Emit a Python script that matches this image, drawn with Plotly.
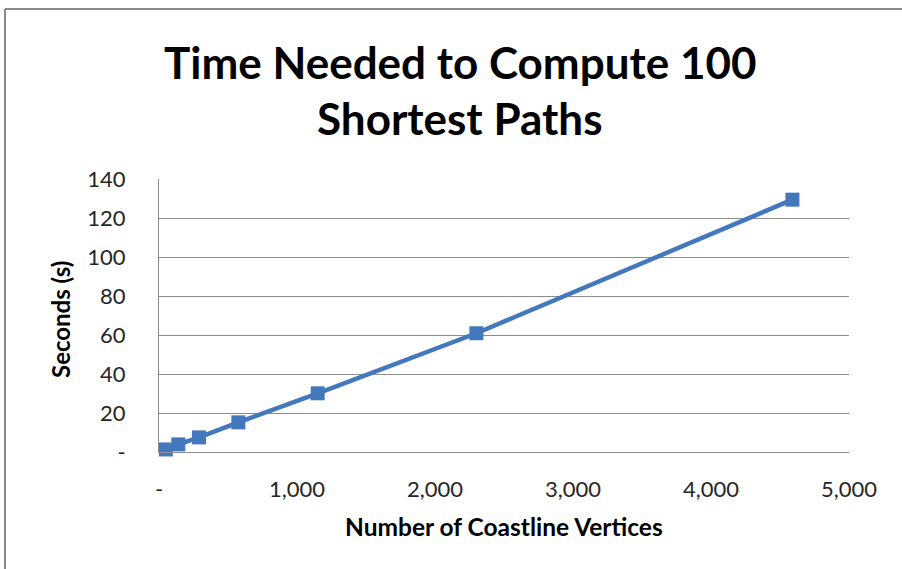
import plotly.graph_objects as go

# Coastline vertex counts and the time to compute 100 shortest paths
vertices = [50, 140, 290, 575, 1150, 2300, 4590]
seconds = [1.3, 3.9, 7.5, 15.2, 30.1, 60.9, 129.4]

x_ticks = [0, 1000, 2000, 3000, 4000, 5000]
x_labels = ["-", "1,000", "2,000", "3,000", "4,000", "5,000"]
y_ticks = [0, 20, 40, 60, 80, 100, 120, 140]
y_labels = ["-", "20", "40", "60", "80", "100", "120", "140"]

blue = "#4478bd"
grid = "#8c8c8c"
font_family = "Lato, 'Open Sans', sans-serif"

fig = go.Figure()
fig.add_trace(go.Scatter(
    x=vertices, y=seconds, mode="lines+markers",
    line=dict(color=blue, width=4.5),
    marker=dict(symbol="square", size=14, color=blue),
    showlegend=False, cliponaxis=False,
))

W, H = 902, 569
L, R, T, B = 159, 53, 179, 117
pw, ph = W - L - R, H - T - B

def px_x(p):
    return (p - L) / pw

def px_y(p):
    return (H - B - p) / ph

annotations = [
    dict(text="<b>Time Needed to Compute 100</b>", xref="paper", yref="paper",
         x=px_x(460), y=px_y(62), xanchor="center", yanchor="middle",
         showarrow=False, font=dict(size=44, color="black")),
    dict(text="<b>Shortest Paths</b>", xref="paper", yref="paper",
         x=px_x(460), y=px_y(118), xanchor="center", yanchor="middle",
         showarrow=False, font=dict(size=44, color="black")),
    dict(text="<b>Number of Coastline Vertices</b>", xref="paper", yref="paper",
         x=px_x(504), y=px_y(526), xanchor="center", yanchor="middle",
         showarrow=False, font=dict(size=24.5, color="black")),
    dict(text="<b>Seconds (s)</b>", xref="paper", yref="paper",
         x=px_x(60), y=px_y(320), xanchor="center", yanchor="middle",
         textangle=-90, showarrow=False, font=dict(size=24, color="black")),
]

fig.update_layout(
    width=W, height=H,
    margin=dict(l=L, r=R, t=T, b=B),
    paper_bgcolor="white", plot_bgcolor="white",
    font=dict(family=font_family, color="#262626"),
    xaxis=dict(
        range=[0, 5000], tickvals=x_ticks, ticktext=x_labels,
        showgrid=False, zeroline=False,
        showline=True, linecolor=grid, linewidth=1,
        ticks="", ticklen=0, ticklabelstandoff=18,
        tickfont=dict(size=22, color="#262626"),
    ),
    yaxis=dict(
        range=[0, 140], tickvals=y_ticks, ticktext=y_labels,
        showgrid=True, gridcolor=grid, gridwidth=1,
        zeroline=False,
        showline=True, linecolor=grid, linewidth=1,
        ticks="", ticklen=0, ticklabelstandoff=28,
        tickfont=dict(size=22, color="#262626"),
    ),
    annotations=annotations,
    shapes=[
        dict(type="line", xref="paper", yref="paper",
             x0=px_x(5), x1=px_x(905), y0=px_y(9), y1=px_y(9),
             line=dict(color="#8a8a8a", width=2)),
        dict(type="line", xref="paper", yref="paper",
             x0=px_x(5), x1=px_x(5), y0=px_y(9), y1=px_y(575),
             line=dict(color="#8a8a8a", width=2)),
    ],
)

fig.write_html("out.html")
